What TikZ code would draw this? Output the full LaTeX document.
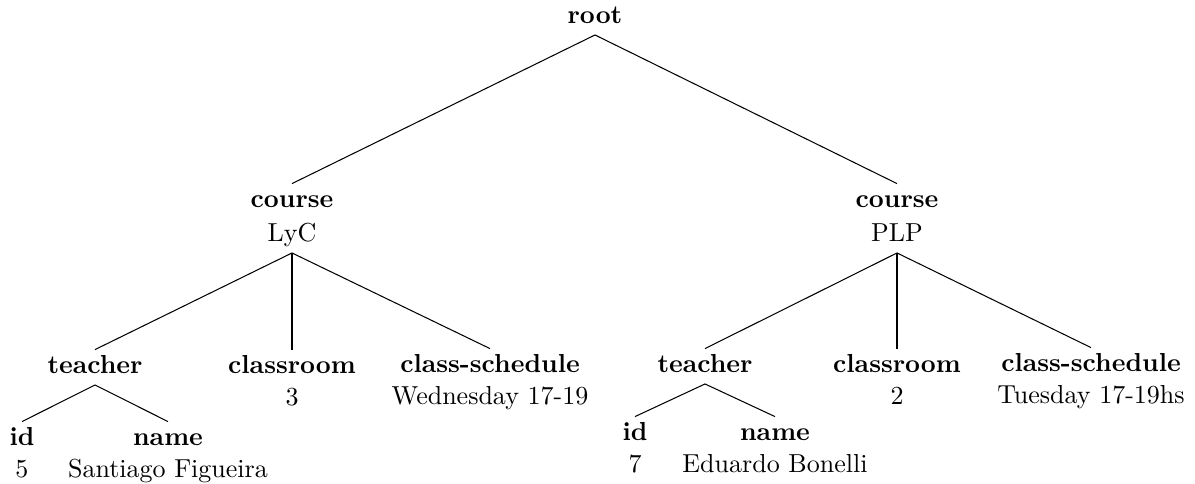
\documentclass[tikz,border=0pt]{standalone}
\begin{document}
\begin{tikzpicture}[x=0.3846pt, y=-0.3846pt,
  key/.style={anchor=base, inner sep=2.5pt, text height=6.3pt, text depth=1.9pt, font=\bfseries},
  val/.style={anchor=base, inner sep=2.5pt, text height=6.3pt, text depth=1.9pt},
  edge/.style={line width=0.4pt}]
\useasboundingbox (0,0) rectangle (1195,484);

% root
\node[key] (root) at (595,23) {root};

% first course
\node[key] (courseL) at (292,207) {course};
\node[val] (lyc) at (292,241) {LyC};
\node[key] (teacherL) at (95,373) {teacher};
\node[key] (classroomL) at (292,373) {classroom};
\node[val] (roomL) at (292,405) {3};
\node[key] (scheduleL) at (490,372) {class-schedule};
\node[val] (timeL) at (490,404) {Wednesday 17-19};
\node[key] (idL) at (22,445) {id};
\node[val] (idvalL) at (22,477) {5};
\node[key] (nameL) at (168,445) {name};
\node[val] (namevalL) at (168,477) {Santiago Figueira};

% second course
\node[key] (courseR) at (897,207) {course};
\node[val] (plp) at (897,241) {PLP};
\node[key] (teacherR) at (705,372) {teacher};
\node[key] (classroomR) at (897,372) {classroom};
\node[val] (roomR) at (897,404) {2};
\node[key] (scheduleR) at (1091,371) {class-schedule};
\node[val] (timeR) at (1091,403) {Tuesday 17-19hs};
\node[key] (idR) at (635,440) {id};
\node[val] (idvalR) at (635,472) {7};
\node[key] (nameR) at (775,440) {name};
\node[val] (namevalR) at (775,472) {Eduardo Bonelli};

% branches
\draw[edge] (root.south) -- (courseL.north);
\draw[edge] (root.south) -- (courseR.north);
\draw[edge] (lyc.south) -- (teacherL.north);
\draw[edge] (lyc.south) -- (classroomL.north);
\draw[edge] (lyc.south) -- (scheduleL.north);
\draw[edge] (teacherL.south) -- (idL.north);
\draw[edge] (teacherL.south) -- (nameL.north);
\draw[edge] (plp.south) -- (teacherR.north);
\draw[edge] (plp.south) -- (classroomR.north);
\draw[edge] (plp.south) -- (scheduleR.north);
\draw[edge] (teacherR.south) -- (idR.north);
\draw[edge] (teacherR.south) -- (nameR.north);
\end{tikzpicture}
\end{document}
